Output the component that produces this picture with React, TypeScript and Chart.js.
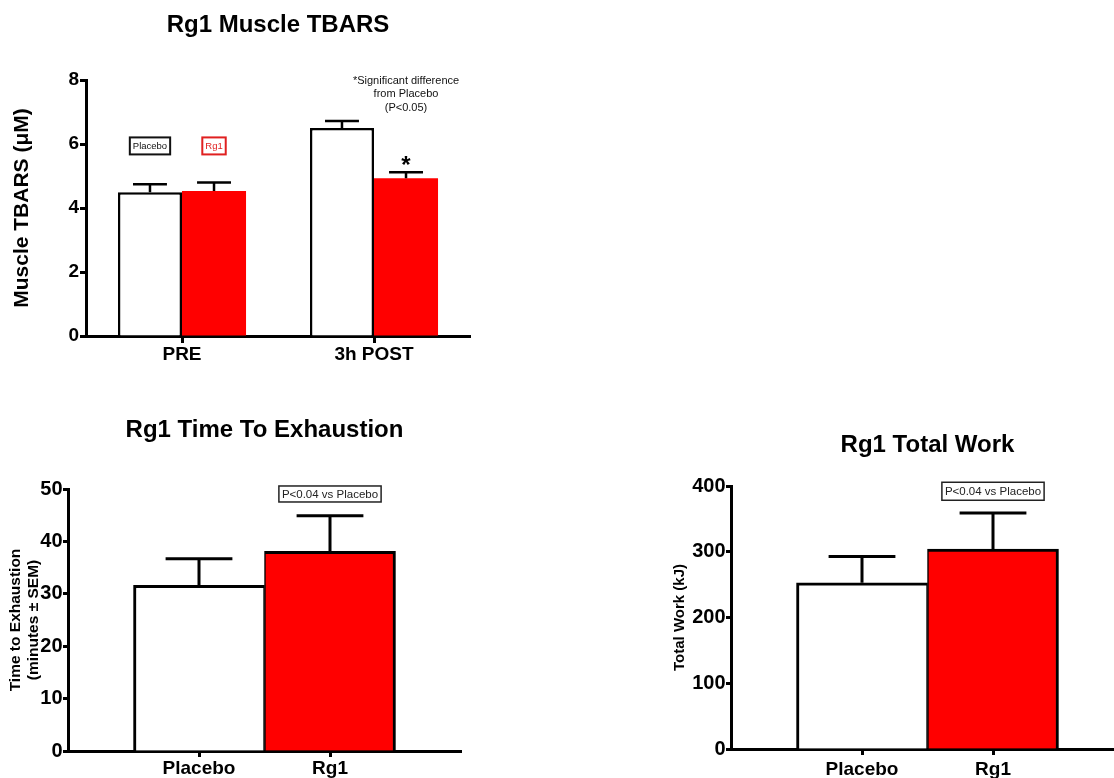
import React, { useEffect, useRef } from 'react';
import { Chart, registerables } from 'chart.js';

Chart.register(...registerables);

const FONT = "'Liberation Sans', Arial, Helvetica, sans-serif";
const RED = '#ff0000';
const BLACK = '#000000';

Chart.defaults.font.family = FONT;
Chart.defaults.color = BLACK;

// ---------- Panel A: Rg1 Muscle TBARS ----------
const tbarsTitle = 'Rg1 Muscle TBARS';
const tbarsYLabel = 'Muscle TBARS (μM)';
const tbarsTimepoints = ['PRE', '3h POST'];
const tbarsSeries = ['Placebo', 'Rg1'];
const tbarsPlacebo = [4.49, 6.5];
const tbarsPlaceboSem = [0.25, 0.22];
const tbarsRg1 = [4.53, 4.93];
const tbarsRg1Sem = [0.27, 0.19];
const tbarsRg1Marks = ['', '*'];
const tbarsYMax = 8;
const tbarsYStep = 2;
const tbarsNote = ['*Significant difference', 'from Placebo', '(P<0.05)'];
const tbarsNoteLevel = 7.97;
const tbarsLegendLevel = 5.94;

// ---------- Panel B: Rg1 Time To Exhaustion ----------
const groups = ['Placebo', 'Rg1'];
const tteTitle = 'Rg1 Time To Exhaustion';
const tteYLabel = ['Time to Exhaustion', '(minutes ± SEM)'];
const tteMeans = [31.6, 38.1];
const tteSem = [5.1, 6.8];
const tteYMax = 50;
const tteYStep = 10;
const tteNote = 'P<0.04 vs Placebo';
const tteNoteLevel = 49.05;

// ---------- Panel C: Rg1 Total Work ----------
const workTitle = 'Rg1 Total Work';
const workYLabel = 'Total Work (kJ)';
const workMeans = [252.8, 303.9];
const workSem = [40, 55];
const workYMax = 400;
const workYStep = 100;
const workNote = 'P<0.04 vs Placebo';
const workNoteLevel = 392;

const groupColors = ['#ffffff', RED];

// ---------- plugins ----------
const errorBarsPlugin = {
  id: 'errorBars',
  afterDatasetsDraw(chart: any, _args: any, opts: any) {
    const { ctx } = chart;
    const yScale = chart.scales.y;
    ctx.save();
    ctx.strokeStyle = BLACK;
    ctx.lineWidth = opts.lineWidth || 3;
    ctx.lineCap = 'butt';
    (opts.errors || []).forEach((errs: number[], di: number) => {
      const meta = chart.getDatasetMeta(di);
      meta.data.forEach((bar: any, i: number) => {
        const err = errs[i];
        if (err == null) return;
        const v = meta.controller.getParsed(i).y;
        const capY = yScale.getPixelForValue(v + err);
        const half = (bar.width * (opts.capRatio || 0.5)) / 2;
        ctx.beginPath();
        ctx.moveTo(bar.x, bar.y);
        ctx.lineTo(bar.x, capY);
        ctx.moveTo(bar.x - half, capY);
        ctx.lineTo(bar.x + half, capY);
        ctx.stroke();
        const mark = opts.marks && opts.marks[di] && opts.marks[di][i];
        if (mark) {
          ctx.fillStyle = BLACK;
          ctx.font = `bold ${opts.markSize || 24}px ${FONT}`;
          ctx.textAlign = 'center';
          ctx.textBaseline = 'alphabetic';
          ctx.fillText(mark, bar.x, capY + 1);
        }
      });
    });
    ctx.restore();
  },
};

const notesPlugin = {
  id: 'notes',
  afterDatasetsDraw(chart: any, _args: any, opts: any) {
    const { ctx } = chart;
    const yScale = chart.scales.y;
    ctx.save();
    ctx.textAlign = 'center';
    ctx.textBaseline = 'middle';
    (opts.boxes || []).forEach((b: any) => {
      const bar = chart.getDatasetMeta(b.dataset).data[b.index];
      const cy = yScale.getPixelForValue(b.value);
      ctx.font = `${b.size}px ${FONT}`;
      const w = ctx.measureText(b.text).width + 2 * b.padX;
      const h = b.height;
      ctx.fillStyle = '#ffffff';
      ctx.fillRect(bar.x - w / 2, cy - h / 2, w, h);
      ctx.lineWidth = b.lineWidth;
      ctx.strokeStyle = b.color;
      ctx.strokeRect(bar.x - w / 2, cy - h / 2, w, h);
      ctx.fillStyle = b.color;
      ctx.fillText(b.text, bar.x, cy + 0.5);
    });
    (opts.texts || []).forEach((t: any) => {
      const bar = chart.getDatasetMeta(t.dataset).data[t.index];
      const y0 = yScale.getPixelForValue(t.value);
      ctx.font = `${t.size}px ${FONT}`;
      ctx.fillStyle = t.color;
      t.lines.forEach((line: string, k: number) => {
        ctx.fillText(line, bar.x, y0 + k * t.lineGap);
      });
    });
    ctx.restore();
  },
};

const axisGrid = (tickLength: number) => ({
  display: true,
  drawOnChartArea: false,
  offset: false,
  tickLength,
  tickWidth: 3,
  tickColor: BLACK,
  color: BLACK,
});
const axisBorder = { display: true, color: BLACK, width: 3 };

// ---------- configs ----------
function makeTbars(): any {
  return {
    type: 'bar',
    data: {
      labels: tbarsTimepoints,
      datasets: [
        {
          label: tbarsSeries[0],
          data: tbarsPlacebo,
          backgroundColor: '#ffffff',
          borderColor: BLACK,
          borderWidth: 2.5,
        },
        {
          label: tbarsSeries[1],
          data: tbarsRg1,
          backgroundColor: RED,
          borderWidth: 0,
        },
      ],
    },
    options: {
      responsive: false,
      animation: false,
      events: [],
      layout: { padding: { left: 0, right: 30, top: 0, bottom: 0 } },
      datasets: { bar: { categoryPercentage: 0.667, barPercentage: 1 } },
      plugins: {
        legend: { display: false },
        tooltip: { enabled: false },
        title: {
          display: true,
          fullSize: false,
          text: tbarsTitle,
          color: BLACK,
          font: { size: 24, weight: 'bold' },
          padding: { top: 10.6, bottom: 40.6 },
        },
        errorBars: {
          errors: [tbarsPlaceboSem, tbarsRg1Sem],
          marks: [[], tbarsRg1Marks],
          capRatio: 0.53,
          lineWidth: 2.5,
          markSize: 24,
        },
        notes: {
          boxes: [
            { text: tbarsSeries[0], dataset: 0, index: 0, value: tbarsLegendLevel, size: 9.5, padX: 3, height: 17, lineWidth: 2, color: '#111111' },
            { text: tbarsSeries[1], dataset: 1, index: 0, value: tbarsLegendLevel, size: 9.5, padX: 3, height: 17, lineWidth: 2, color: '#e02020' },
          ],
          texts: [
            { lines: tbarsNote, dataset: 1, index: 1, value: tbarsNoteLevel, size: 11, lineGap: 13.5, color: '#111111' },
          ],
        },
      },
      scales: {
        x: {
          offset: true,
          grid: axisGrid(7),
          border: axisBorder,
          ticks: { color: BLACK, font: { size: 19, weight: 'bold' }, padding: 0, maxRotation: 0 },
          afterFit: (s: any) => {
            s.height = 54;
          },
        },
        y: {
          min: 0,
          max: tbarsYMax,
          grid: axisGrid(6),
          border: axisBorder,
          ticks: { stepSize: tbarsYStep, color: BLACK, font: { size: 19, weight: 'bold' }, padding: 1 },
          title: {
            display: true,
            text: tbarsYLabel,
            color: BLACK,
            font: { size: 21, weight: 'bold' },
            padding: { top: 9.4, bottom: 0 },
          },
          afterFit: (s: any) => {
            s.width = 86;
          },
        },
      },
    },
    plugins: [errorBarsPlugin, notesPlugin],
  };
}

function makeGroupChart(
  title: string,
  yLabel: string | string[],
  means: number[],
  sem: number[],
  yMax: number,
  yStep: number,
  note: string,
  noteLevel: number,
  layout: { yWidth: number; xHeight: number; padRight: number; titleTop: number; titleBottom: number; yTitleTop: number; yTitleSize: number; yTitleLineHeight: number; xTickPad: number; noteHeight: number }
): any {
  return {
    type: 'bar',
    data: {
      datasets: [
        {
          label: title,
          data: groups.map((_, i) => ({ x: i + 1, y: means[i] })),
          backgroundColor: groupColors,
          borderColor: BLACK,
          borderWidth: [
            { left: 3, top: 3, right: 1.5, bottom: 0 },
            { left: 1.5, top: 3, right: 3, bottom: 0 },
          ],
          categoryPercentage: 1,
          barPercentage: 1,
        },
      ],
    },
    options: {
      responsive: false,
      animation: false,
      events: [],
      layout: { padding: { left: 0, right: layout.padRight, top: 0, bottom: 0 } },
      plugins: {
        legend: { display: false },
        tooltip: { enabled: false },
        title: {
          display: true,
          fullSize: false,
          text: title,
          color: BLACK,
          font: { size: 24, weight: 'bold' },
          padding: { top: layout.titleTop, bottom: layout.titleBottom },
        },
        errorBars: { errors: [sem], capRatio: 0.51, lineWidth: 3 },
        notes: {
          boxes: [
            { text: note, dataset: 0, index: 1, value: noteLevel, size: 11.5, padX: 3, height: layout.noteHeight, lineWidth: 1.5, color: '#222222' },
          ],
        },
      },
      scales: {
        x: {
          type: 'linear',
          min: 0,
          max: groups.length + 1,
          offset: false,
          grid: axisGrid(6),
          border: axisBorder,
          afterBuildTicks: (s: any) => {
            s.ticks = groups.map((_, i) => ({ value: i + 1 }));
          },
          ticks: {
            color: BLACK,
            font: { size: 19, weight: 'bold' },
            padding: layout.xTickPad,
            maxRotation: 0,
            autoSkip: false,
            callback: (v: number) => groups[Math.round(v) - 1] ?? '',
          },
          afterFit: (s: any) => {
            s.height = layout.xHeight;
          },
        },
        y: {
          min: 0,
          max: yMax,
          grid: axisGrid(5),
          border: axisBorder,
          ticks: { stepSize: yStep, color: BLACK, font: { size: 20, weight: 'bold' }, padding: 0.5 },
          title: {
            display: true,
            text: yLabel,
            color: BLACK,
            font: { size: layout.yTitleSize, weight: 'bold', lineHeight: layout.yTitleLineHeight },
            padding: { top: layout.yTitleTop, bottom: 0 },
          },
          afterFit: (s: any) => {
            s.width = layout.yWidth;
          },
        },
      },
    },
    plugins: [errorBarsPlugin, notesPlugin],
  };
}

const makeTte = () =>
  makeGroupChart(tteTitle, tteYLabel, tteMeans, tteSem, tteYMax, tteYStep, tteNote, tteNoteLevel, {
    yWidth: 68,
    xHeight: 27,
    padRight: 19,
    titleTop: 15.6,
    titleBottom: 44.6,
    yTitleTop: 6.6,
    yTitleSize: 15.5,
    yTitleLineHeight: 1.15,
    xTickPad: 0,
    noteHeight: 16,
  });

const makeWork = () =>
  makeGroupChart(workTitle, workYLabel, workMeans, workSem, workYMax, workYStep, workNote, workNoteLevel, {
    yWidth: 91,
    xHeight: 29,
    padRight: 16,
    titleTop: 30.6,
    titleBottom: 26.6,
    yTitleTop: 31,
    yTitleSize: 15,
    yTitleLineHeight: 1.2,
    xTickPad: 3,
    noteHeight: 18,
  });

function ChartCanvas(props: { make: () => any; left: number; top: number; width: number; height: number }) {
  const ref = useRef<HTMLCanvasElement>(null);
  useEffect(() => {
    const chart = new Chart(ref.current as HTMLCanvasElement, props.make());
    return () => chart.destroy();
  }, []);
  return (
    <canvas
      ref={ref}
      width={props.width}
      height={props.height}
      style={{ position: 'absolute', left: props.left, top: props.top, width: props.width, height: props.height }}
    />
  );
}

export default function App() {
  return (
    <div
      style={{
        position: 'fixed',
        left: 0,
        top: 0,
        width: 1114,
        height: 778,
        overflow: 'hidden',
        background: '#ffffff',
      }}
    >
      <ChartCanvas make={makeTbars} left={0} top={0} width={500} height={390} />
      <ChartCanvas make={makeTte} left={0} top={400} width={480} height={378} />
      <ChartCanvas make={makeWork} left={640} top={400} width={500} height={378} />
    </div>
  );
}
